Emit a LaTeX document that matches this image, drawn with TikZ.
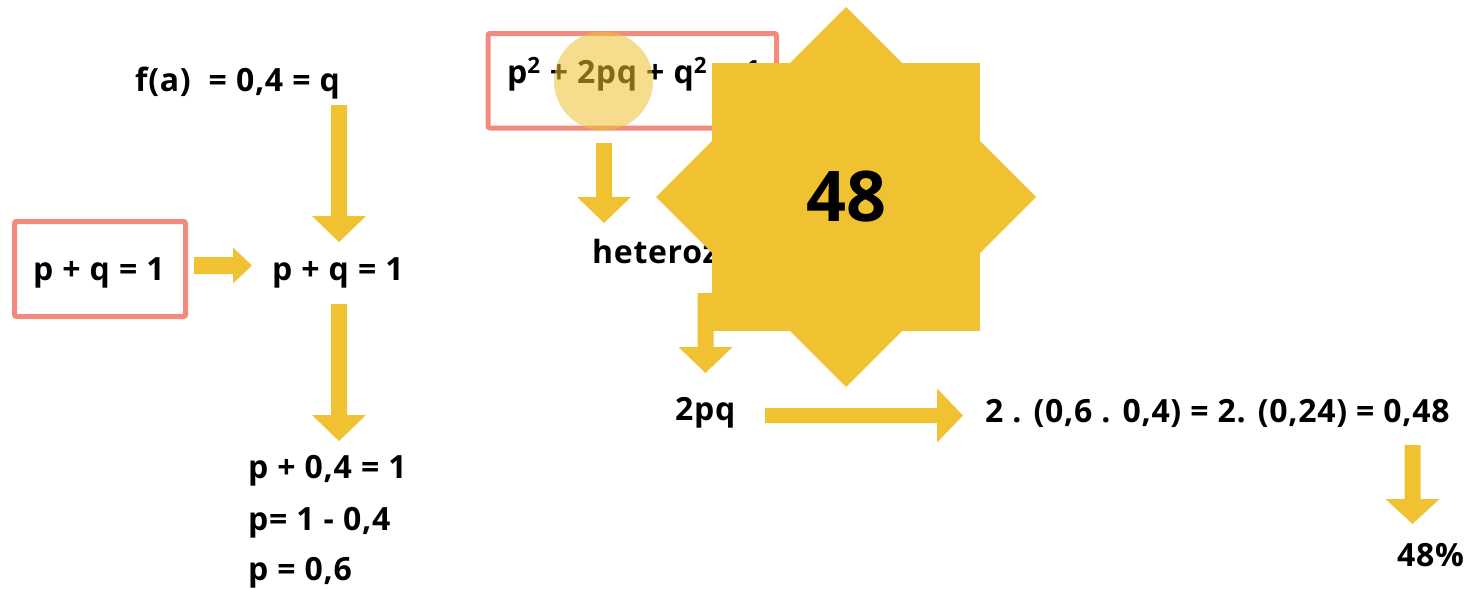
\documentclass[tikz,border=0pt]{standalone}
\usepackage{fontspec}
\setmainfont{Open Sans}
\newfontfamily\trackfont[LetterSpace=2.2]{Open Sans}
\definecolor{gold}{HTML}{F0C232}
\definecolor{salmon}{HTML}{F28B7E}
\newcommand\myDarr[4]{% x, top, head base, tip
  \fill[gold] (#1-8,#2) -- (#1+8,#2) -- (#1+8,#3) -- (#1+27,#3) -- (#1,#4) -- (#1-27,#3) -- (#1-8,#3) -- cycle;}
\newcommand\myRarr[6]{% y, left, head base, tip, shaft half, head half
  \fill[gold] (#2,#1-#5) -- (#3,#1-#5) -- (#3,#1-#6) -- (#4,#1) -- (#3,#1+#6) -- (#3,#1+#5) -- (#2,#1+#5) -- cycle;}
\tikzset{
  txt/.style={font=\trackfont\fontsize{32}{36}\selectfont\bfseries, inner sep=0pt, anchor=base west},
  pinkbox/.style={draw=salmon, line width=5pt, rounded corners=2pt, inner sep=0pt},
  startext/.style={font=\fontsize{70}{80}\selectfont\bfseries, inner sep=0pt},
}
\begin{document}
\begin{tikzpicture}[x=1pt,y=-1pt]
\useasboundingbox[fill=white] (0,0) rectangle (1470,589);
% boxes
\node[pinkbox, minimum width=171pt, minimum height=95pt] (box1) at (100,269) {};
\node[pinkbox, minimum width=288.5pt, minimum height=94.5pt] (box2) at (632.25,80.75) {};
% texts
\node[txt] (fa) at (135,91) {f(a)~ = 0,4 = q};
\node[txt] (t1) at (33,280) {p + q = 1};
\node[txt] (t2) at (272,280) {p + q = 1};
\node[txt] (t3) at (248,478) {p + 0,4 = 1};
\node[txt] (t4) at (248,530) {p= 1 - 0,4};
\node[txt] (t5) at (248,580) {p = 0,6};
\node[txt] (eq) at (507,83) {p\textsuperscript{2} + 2pq + q\textsuperscript{2} = 1};
\node[txt] (het) at (592,263) {heterozigoto};
\node[txt] (tpq) at (675,420) {2pq};
\node[txt] (long) at (985,422) {2 . (0,6 . 0,4) = 2. (0,24) = 0,48};
\node[txt] (pct) at (1397,566) {48\%};
% highlight circle
\fill[gold, opacity=0.55] (603.5,81) circle (49.5);
% arrows
\myDarr{339}{105}{216}{242}
\myDarr{339}{304}{415}{441}
\myDarr{604}{143}{197}{223}
\myDarr{705.5}{293}{347}{373}
\myDarr{1412.5}{445}{499}{524}
\myRarr{265.5}{194}{233}{252}{8.5}{18}
\myRarr{415.5}{765}{937}{963}{7.5}{27}
% star
\coordinate (sc) at (846,197);
\fill[gold] (712,63) rectangle (980,331);
\fill[gold] (846,7) -- (1036,197) -- (846,387) -- (656,197) -- cycle;
\node[startext] (star) at (sc) {48};
\end{tikzpicture}
\end{document}
